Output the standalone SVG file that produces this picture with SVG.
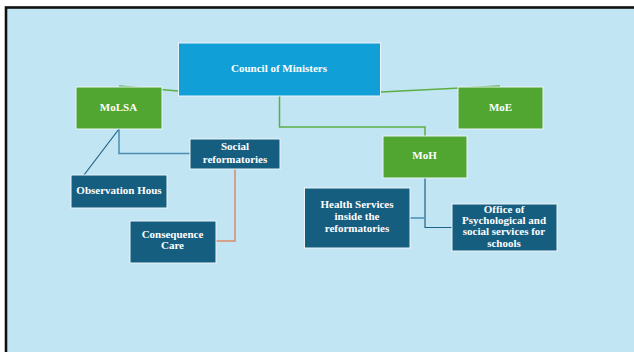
<svg xmlns="http://www.w3.org/2000/svg" width="634" height="352" viewBox="0 0 634 352">
<style>
text{font-family:"Liberation Serif","Times New Roman",serif;font-weight:bold;fill:#ffffff;text-anchor:middle;font-size:11px}
.box{stroke:#eaf4f8;stroke-width:1}
.green{fill:#50A630}
.dark{fill:#165E80}
.cyan{fill:#109FD6}
.lg{stroke:#5CAE45;stroke-width:1.5;fill:none}
.lb{stroke:#4A8DB3;stroke-width:1.5;fill:none}
.db{stroke:#1E6286;stroke-width:1.2;fill:none}
.or{stroke:#D88C6A;stroke-width:1.5;fill:none}
</style>
<rect x="0" y="0" width="634" height="352" fill="#ffffff"/>
<rect x="6" y="7.5" width="640" height="360" fill="#C2E5F4" stroke="#111111" stroke-width="2.6"/>
<g id="connectors">
<line class="lg" x1="119" y1="86" x2="178" y2="91"/>
<line class="lg" x1="381" y1="92" x2="500" y2="86"/>
<polyline class="lg" points="279.5,96 279.5,127 425,127 425,136" stroke="#6BB85A"/>
<polyline class="lb" points="119,129 119,153.5 190,153.5"/>
<line class="db" x1="119" y1="129" x2="84" y2="175"/>
<polyline class="or" points="235,169 235,241 216,241"/>
<polyline class="db" points="425,178 425,227.5 452,227.5" stroke-width="1.5"/>
<line class="lb" x1="410" y1="218" x2="425" y2="218" stroke="#5B9CC2"/>
</g>
<g id="council">
<rect class="box cyan" x="178.5" y="43" width="202" height="53"/>
<text x="279" y="71.5" font-size="9">Council of Ministers</text>
</g>
<g id="molsa">
<rect class="box green" x="76" y="87" width="86" height="42"/>
<text x="118.5" y="111">MoLSA</text>
</g>
<g id="moe">
<rect class="box green" x="458" y="87" width="85" height="42"/>
<text x="500.5" y="111">MoE</text>
</g>
<g id="moh">
<rect class="box green" x="383" y="136" width="84" height="42"/>
<text x="424.5" y="159">MoH</text>
</g>
<g id="social">
<rect class="box dark" x="190" y="139" width="90" height="30"/>
<text x="235" y="150.3">Social</text>
<text x="235" y="162.5">reformatories</text>
</g>
<g id="observation">
<rect class="box dark" x="71" y="175" width="96" height="33"/>
<text x="119" y="193.5">Observation Hous</text>
</g>
<g id="consequence">
<rect class="box dark" x="130" y="221" width="86" height="42"/>
<text x="172.5" y="237.5">Consequence</text>
<text x="172.5" y="249">Care</text>
</g>
<g id="health">
<rect class="box dark" x="304.5" y="188" width="105.5" height="60"/>
<text x="357" y="208">Health Services</text>
<text x="357" y="219.8">inside the</text>
<text x="357" y="231.5">reformatories</text>
</g>
<g id="office">
<rect class="box dark" x="452" y="204" width="105" height="47" stroke="#9ec4dc"/>
<text x="504" y="213">Office of</text>
<text x="504" y="224">Psychological and</text>
<text x="504" y="235">social services for</text>
<text x="504" y="246.5">schools</text>
</g>
</svg>
